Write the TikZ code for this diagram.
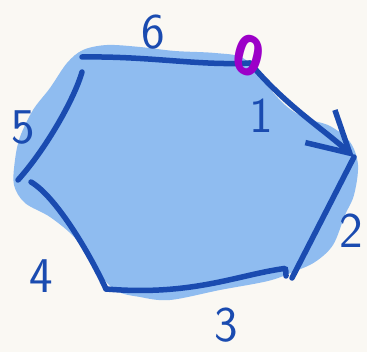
\documentclass[tikz,border=0pt]{standalone}
\usepackage{xcolor}
\usepackage{fontspec}
\usepackage{tikz}
\usetikzlibrary{arrows.meta}

\newfontfamily\markfont{DejaVu Sans}
\definecolor{paper}{HTML}{FAF8F3}
\definecolor{ink}{HTML}{1A4BB0}
\definecolor{wash}{HTML}{8FBCF0}
\definecolor{mark}{HTML}{9C00C8}

\begin{document}
\begin{tikzpicture}[x=1pt, y=-1pt,
    side/.style={draw=ink, line width=5.5pt, line cap=round},
    num/.style={text=ink, inner sep=0pt, font=\sffamily\fontsize{50}{50}\selectfont}]
    \fill[paper] (0,0) rectangle (367,352);
    \useasboundingbox (0,0) rectangle (367,352);

    % blue wash behind the hexagon
    \fill[wash] plot[smooth cycle, tension=0.55] coordinates {
        (107,45) (140,47) (175,51) (215,53) (243,58) (262,80) (285,105)
        (305,118) (330,126) (350,142) (358,165) (354,195) (345,215)
        (333,245) (315,262) (293,272) (268,281) (220,290) (170,300)
        (140,297) (115,290) (92,265) (75,238) (50,217) (25,203) (14,185)
        (15,160) (20,137) (33,110) (50,88) (67,63) (83,50)};

    \coordinate (v0) at (250,63);
    \coordinate (v1) at (354,157);
    \coordinate (v2) at (292,278);
    \coordinate (v2e) at (286,276);
    \coordinate (v3) at (106,289);
    \coordinate (v4) at (18,180);
    \coordinate (v4e) at (31,182);
    \coordinate (v5) at (82,57);
    \coordinate (v5e) at (82,72);

    % edges
    \draw[side, -{Straight Barb[length=40pt, width=44pt, line width=5.5pt]}]
        (v0) .. controls (285,105) and (322,128) .. (v1);
    \draw[side] (v2) -- (v1);
    \draw[side] (v3) .. controls (190,296) and (235,276) .. (281,269)
        .. controls (286,268) .. (v2e);
    \draw[side] (v4e) .. controls (55,196) and (88,250) .. (v3);
    \draw[side] (v5e) .. controls (74,100) and (45,150) .. (v4);
    \draw[side] (v5) .. controls (150,56) and (200,66) .. (v0);

    % start mark
    \node[text=mark, inner sep=0pt, xscale=0.8, rotate=-18,
        font=\markfont\bfseries\fontsize{54}{54}\selectfont] (zero) at (249,56) {0};

    % side numbers
    \node[num] (n1) at (261,116) {1};
    \node[num] (n2) at (351,231) {2};
    \node[num] (n3) at (226,325) {3};
    \node[num] (n4) at (41,276) {4};
    \node[num] (n5) at (23,128) {5};
    \node[num] (n6) at (153,32) {6};
\end{tikzpicture}
\end{document}
